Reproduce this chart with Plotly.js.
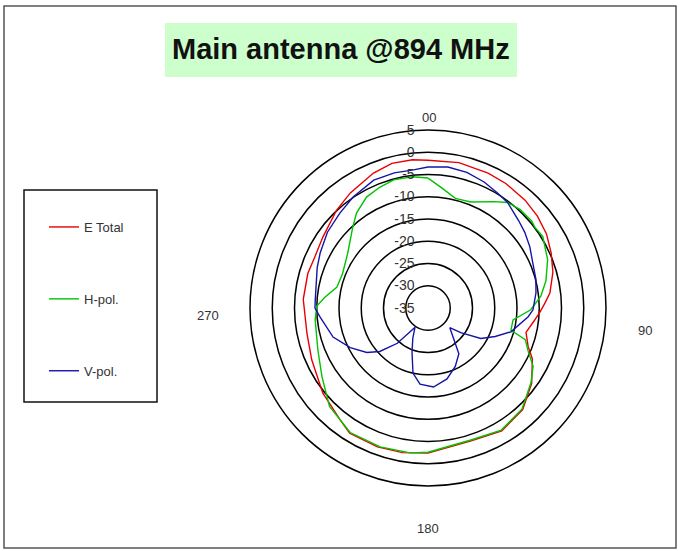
<!DOCTYPE html>
<html>
<head>
<meta charset="utf-8">
<script src="https://cdn.plot.ly/plotly-3.0.1.min.js"></script>
<style>
  html, body { margin: 0; padding: 0; background: #fff; }
  #chart { width: 686px; height: 551px; }
</style>
</head>
<body>
<div id="chart"></div>
<script>
// angles in degrees, clockwise from top; levels in dB
const thetaTotal = [0, 12, 24, 32, 42, 50, 58, 66, 74, 83, 88, 92, 97, 104, 111, 116, 126, 137, 149, 162, 180, 190, 200, 212, 218, 231, 246, 258, 274, 286, 294, 304, 317, 326, 338, 346, 354, 360];
const rTotal = [-1.8, -1.6, -1.8, -2.0, -2.4, -2.9, -3.6, -4.7, -5.8, -7.4, -8.8, -9.8, -11, -12.3, -10.9, -8.9, -6.2, -3.8, -2.8, -3.6, -2.4, -2, -1.8, -1.8, -3, -4.6, -6.4, -7.2, -6.9, -6.9, -7.1, -6.5, -4.9, -3.8, -2.3, -1.5, -1.5, -1.8];

const thetaH = [0, 6, 14, 22, 32, 37, 43, 50, 53, 58, 68, 77, 84, 91, 98, 105, 108, 113, 119, 126, 137, 149, 162, 180, 187, 199, 212, 225, 237, 249, 264, 271, 276, 283, 292, 304, 317, 323, 331, 338, 345, 353, 360];
const rH = [-5.8, -7.7, -9.6, -9.3, -6.8, -5.3, -4.7, -4.6, -4.9, -4.6, -6, -7.8, -9.5, -11.9, -15.7, -15.7, -12, -10.6, -8, -6.4, -4, -3, -3.8, -2.6, -2.2, -2, -2, -3.7, -6.6, -8.5, -9.5, -10, -11.7, -14, -14.3, -13.2, -10.2, -8.3, -6.5, -5.8, -5.2, -5.3, -5.8];

const thetaV = [0, 8, 16, 24, 31, 37, 46, 52, 59, 67, 75, 82, 91, 95, 106, 113, 120, 127, 132, 146, 155, 165, 176, 186, 193, 200, 207, 214, 221, 228, 234, 243, 253, 265, 270, 274, 290, 297, 307, 317, 326, 337, 346, 354, 360];
const rV = [-3.3, -3, -3.3, -4, -4.8, -5.3, -6.7, -7.4, -8.3, -9.4, -9.9, -10.5, -11.4, -12.4, -15.6, -18.6, -21.3, -25.8, -28.4, -22.6, -20.5, -18.5, -17.2, -17.8, -20, -24.5, -27.5, -29.8, -24.5, -20.4, -18, -15.4, -12.7, -10.7, -9.6, -9.6, -8.5, -7.8, -6.7, -5.9, -4.9, -3.8, -3.7, -3.8, -3.3];

const radialTicks = [-35, -30, -25, -20, -15, -10, -5, 0, 5];
const radialTickText = ["-35", "-30", "-25", "-20", "-15", "-10", "-5", "0", "5"];
const angleLabels = ["00", "90", "180", "270"];

const W = 686, H = 551;
const px = x => x / W;
const py = y => 1 - y / H;
const FONT = "Liberation Sans, Arial, sans-serif";

const traces = [
  { name: "E Total", theta: thetaTotal, r: rTotal, color: "#e80000" },
  { name: "H-pol.", theta: thetaH, r: rH, color: "#00c400" },
  { name: "V-pol.", theta: thetaV, r: rV, color: "#1414a8" }
].map(s => ({
  type: "scatterpolar",
  mode: "lines",
  name: s.name,
  legendgroup: s.name,
  theta: s.theta,
  r: s.r,
  line: { color: s.color, width: 1.4 },
  hoverinfo: "skip"
}));

// angular labels sit well outside the plot circle in the original
const anglePos = [[429, 117], [645, 330], [428, 528], [208, 315]];
const annotations = angleLabels.map((t, i) => ({
  text: t, xref: "paper", yref: "paper",
  x: px(anglePos[i][0]), y: py(anglePos[i][1]),
  xanchor: "center", yanchor: "middle",
  showarrow: false,
  font: { family: FONT, size: 13, color: "#333" }
}));
annotations.push({
  text: "<b>Main antenna @894 MHz</b>",
  xref: "paper", yref: "paper",
  x: px(341), y: py(49),
  xanchor: "center", yanchor: "middle",
  showarrow: false,
  font: { family: FONT, size: 29, color: "#111" }
});

const layout = {
  width: W, height: H,
  margin: { l: 0, r: 0, t: 0, b: 0 },
  paper_bgcolor: "#fff",
  showlegend: true,
  legend: {
    x: px(44), y: py(212), xanchor: "left", yanchor: "top",
    bgcolor: "rgba(0,0,0,0)", borderwidth: 0,
    tracegroupgap: 52,
    font: { family: FONT, size: 13, color: "#333" }
  },
  polar: {
    domain: { x: [px(250), px(606)], y: [py(486), py(130)] },
    bgcolor: "#fff",
    angularaxis: {
      rotation: 90, direction: "clockwise",
      showgrid: false, showticklabels: false, ticks: "",
      showline: true, linecolor: "#000", linewidth: 1.5
    },
    radialaxis: {
      range: [-35, 5], tickvals: radialTicks, ticktext: radialTickText,
      angle: 90, side: "counterclockwise", tickangle: 90,
      showline: false, ticks: "outside", ticklen: 8, tickcolor: "rgba(0,0,0,0)",
      gridcolor: "#000", gridwidth: 1.5,
      tickfont: { family: FONT, size: 14, color: "#333" }
    }
  },
  shapes: [
    { type: "rect", xref: "paper", yref: "paper", layer: "below",
      x0: px(165), x1: px(517), y0: py(77), y1: py(23),
      fillcolor: "#ccffcc", line: { width: 0 } },
    { type: "rect", xref: "paper", yref: "paper",
      x0: px(24), x1: px(157), y0: py(402), y1: py(190),
      line: { color: "#111", width: 1.5 } },
    { type: "rect", xref: "paper", yref: "paper",
      x0: px(4), x1: px(676), y0: py(548), y1: py(6),
      line: { color: "#555", width: 1.5 } }
  ],
  annotations: annotations
};

Plotly.newPlot("chart", traces, layout, { displayModeBar: false, staticPlot: true });
</script>
</body>
</html>
